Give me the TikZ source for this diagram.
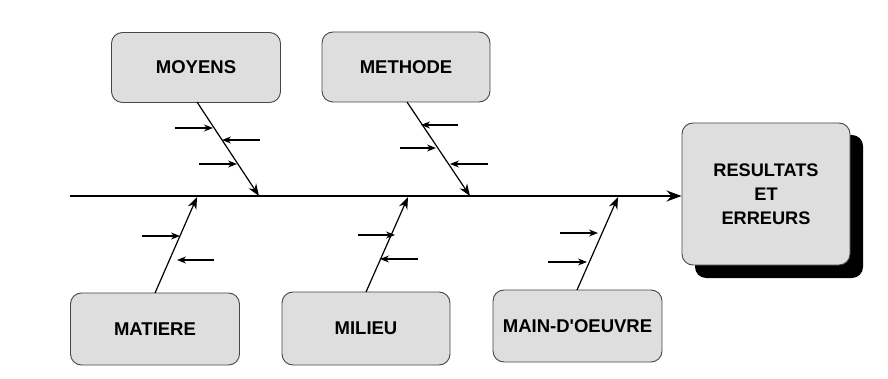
\documentclass[tikz,border=0pt]{standalone}
\usepackage{fontspec}
\setmainfont{Liberation Sans}
\usetikzlibrary{arrows.meta,calc}
\definecolor{boxfill}{RGB}{222,222,222}
\definecolor{boxline}{RGB}{70,70,70}
\tikzset{
  cause/.style={draw=boxline, line width=0.9pt, fill=boxfill, rounded corners=11pt,
    minimum width=169pt, minimum height=70pt, font=\fontsize{18.5}{22}\selectfont\bfseries, inner sep=0pt},
  effect/.style={cause, minimum width=168pt, minimum height=142pt, align=center,
    font=\fontsize{18.2}{24}\selectfont\bfseries},
  spine/.style={line width=1.8pt, -{Stealth[length=15pt,width=11pt]}},
  bone/.style={line width=1.2pt, -{Stealth[length=12pt,width=9pt]}},
  sub/.style={line width=1.1pt, -{Stealth[length=9pt,width=7pt]}}
}
\begin{document}
\begin{tikzpicture}[x=1pt,y=-1pt]
\useasboundingbox (0,0) rectangle (888,379);
\fill[white] (0,0) rectangle (888,379);
% shadow of effect box
\fill[black, rounded corners=11pt] (695,135) rectangle (863,278);
\node[effect] (R) at (766,194) {RESULTATS\\ET\\ERREURS};
% cause boxes
\node[cause] (moy) at (196,67.5) {MOYENS};
\node[cause, minimum width=168pt] (met) at (406,67) {METHODE};
\node[cause, minimum height=72pt] (mat) at (155,329) {MATIERE};
\node[cause, minimum width=168pt, minimum height=73pt] (mil) at (366,328.5) {MILIEU};
\node[cause, minimum height=72pt] (mo) at (577.5,326) {MAIN-D\textquotesingle OEUVRE};
% spine
\coordinate (s0) at (70,196);
\draw[spine] (s0) -- (R.west |- s0);
% bone ends on spine
\coordinate (e1) at (259,196);
\coordinate (e2) at (470,196);
\coordinate (e3) at (197,197);
\coordinate (e4) at (408,197);
\coordinate (e5) at (618,197);
\coordinate (b1) at (197,102);
\coordinate (b2) at (407,102);
\coordinate (b3) at (155,293);
\coordinate (b4) at (366,292);
\coordinate (b5) at (577,290);
\draw[bone] (b1) -- (e1);
\draw[bone] (b2) -- (e2);
\draw[bone] (b3) -- (e3);
\draw[bone] (b4) -- (e4);
\draw[bone] (b5) -- (e5);
% sub-causes MOYENS
\coordinate (p1) at (213,128);
\coordinate (p2) at (222,140);
\coordinate (p3) at (237,164);
\draw[sub] ([xshift=-38pt]p1) -- (p1);
\draw[sub] ([xshift=38pt]p2) -- (p2);
\draw[sub] ([xshift=-38pt]p3) -- (p3);
% METHODE
\coordinate (q1) at (421,125);
\coordinate (q2) at (436,148);
\coordinate (q3) at (450,164);
\draw[sub] ([xshift=37pt]q1) -- (q1);
\draw[sub] ([xshift=-36pt]q2) -- (q2);
\draw[sub] ([xshift=38pt]q3) -- (q3);
% MATIERE
\coordinate (r1) at (180,236);
\coordinate (r2) at (177,260);
\draw[sub] ([xshift=-38pt]r1) -- (r1);
\draw[sub] ([xshift=37pt]r2) -- (r2);
% MILIEU
\coordinate (t1) at (395,235);
\coordinate (t2) at (380,259);
\draw[sub] ([xshift=-37pt]t1) -- (t1);
\draw[sub] ([xshift=38pt]t2) -- (t2);
% MAIN-D'OEUVRE
\coordinate (u1) at (598,233);
\coordinate (u2) at (587,262);
\draw[sub] ([xshift=-38pt]u1) -- (u1);
\draw[sub] ([xshift=-39pt]u2) -- (u2);
\end{tikzpicture}
\end{document}
